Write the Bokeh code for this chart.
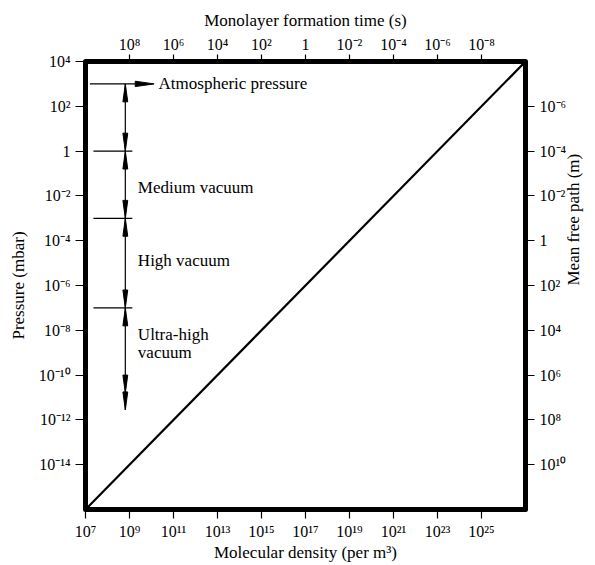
import math
from bokeh.plotting import figure
from bokeh.models import Range1d, LogAxis, LogScale, FixedTicker, Label, CustomJSTickFormatter
from bokeh.embed import file_html
from bokeh.resources import INLINE

# ---------------- data ----------------
density = [1e7, 1e27]            # molecular density (per m^3)
pressure = [1e-16, 1e4]          # pressure (mbar)

bottom_ticks = [1e7, 1e9, 1e11, 1e13, 1e15, 1e17, 1e19, 1e21, 1e23, 1e25]
bottom_labels = ["10⁷", "10⁹", "10¹¹", "10¹³", "10¹⁵", "10¹⁷", "10¹⁹", "10²¹", "10²³", "10²⁵"]

left_ticks = [1e4, 1e2, 1.0, 1e-2, 1e-4, 1e-6, 1e-8, 1e-10, 1e-12, 1e-14]
left_labels = ["10⁴", "10²", "1", "10⁻²", "10⁻⁴", "10⁻⁶", "10⁻⁸", "10⁻¹⁰", "10⁻¹²", "10⁻¹⁴"]

top_ticks = [1e8, 1e6, 1e4, 1e2, 1.0, 1e-2, 1e-4, 1e-6, 1e-8]
top_labels = ["10⁸", "10⁶", "10⁴", "10²", "1", "10⁻²", "10⁻⁴", "10⁻⁶", "10⁻⁸"]

right_ticks = [1e-6, 1e-4, 1e-2, 1.0, 1e2, 1e4, 1e6, 1e8, 1e10]
right_labels = ["10⁻⁶", "10⁻⁴", "10⁻²", "1", "10²", "10⁴", "10⁶", "10⁸", "10¹⁰"]

# monolayer time (s) = time_const / density ; mean free path (m) = mfp_const / pressure
time_const = 1e17
mfp_const = 1e-4

# vacuum regime boundaries (mbar)
atmospheric = 1e3
regime_bounds = [1e3, 1.0, 1e-3, 1e-7]
uhv_arrow_tips = [10 ** -10.8, 10 ** -11.55]

FONT = "Liberation Serif"

# ---------------- figure ----------------
p = figure(width=595, height=565, x_axis_type="log", y_axis_type="log",
           x_range=Range1d(density[0], density[1]),
           y_range=Range1d(pressure[0], pressure[1]),
           output_backend="svg", toolbar_location=None,
           min_border_left=85, min_border_right=70, min_border_top=61, min_border_bottom=56)
p.grid.visible = False
p.background_fill_color = "white"
p.border_fill_color = "white"
p.outline_line_color = "black"
p.outline_line_width = 5
p.outline_line_join = "round"

p.extra_x_ranges = {"t": Range1d(time_const / density[0], time_const / density[1])}
p.extra_x_scales = {"t": LogScale()}
p.extra_y_ranges = {"mfp": Range1d(mfp_const / pressure[0], mfp_const / pressure[1])}
p.extra_y_scales = {"mfp": LogScale()}

top_axis = LogAxis(x_range_name="t")
right_axis = LogAxis(y_range_name="mfp")
p.add_layout(top_axis, "above")
p.add_layout(right_axis, "right")

FMT_CODE = """
let best = 0, bd = Infinity;
for (let i = 0; i < tv.length; i++) {
  const d = Math.abs(Math.log10(tv[i]) - Math.log10(tick));
  if (d < bd) { bd = d; best = i; }
}
return lbls[best];
"""


def style(ax, ticks, labels, title, tick_len=10, label_standoff=4, title_standoff=6):
    ax.ticker = FixedTicker(ticks=ticks, minor_ticks=[])
    ax.formatter = CustomJSTickFormatter(args=dict(tv=ticks, lbls=labels), code=FMT_CODE)
    ax.axis_label = title
    ax.axis_label_text_font = FONT
    ax.axis_label_text_font_size = "17px"
    ax.axis_label_text_font_style = "normal"
    ax.axis_label_text_color = "black"
    ax.major_label_text_font = FONT
    ax.major_label_text_font_size = "16px"
    ax.major_label_text_color = "black"
    ax.axis_line_color = None
    ax.major_tick_out = tick_len
    ax.major_tick_in = 0
    ax.major_tick_line_color = "black"
    ax.major_tick_line_width = 1.2
    ax.minor_tick_line_color = None
    ax.major_label_standoff = label_standoff
    ax.axis_label_standoff = title_standoff


style(p.below[0], bottom_ticks, bottom_labels, "Molecular density (per m³)", 9, 4, 0)
style(p.left[0], left_ticks, left_labels, "Pressure (mbar)", 10, 5, 8)
style(top_axis, top_ticks, top_labels, "Monolayer formation time (s)", 7, 2, 3)
style(right_axis, right_ticks, right_labels, "Mean free path (m)", 9, 5, 4)
right_axis.axis_label_orientation = math.pi / 2

# diagonal relation line
p.line(density, pressure, line_color="black", line_width=2.2)

# ---------------- regime arrows ----------------
arrow_x = 10 ** 8.81
tick_x0, tick_x1 = 10 ** 7.36, 10 ** 9.13
head_len = 0.8      # decades (vertical)
head_hw = 0.11      # decades (horizontal half width)
lx = math.log10(arrow_x)

# main vertical shaft
p.segment(x0=[arrow_x], y0=[atmospheric], x1=[arrow_x], y1=[uhv_arrow_tips[-1]],
          line_color="black", line_width=1.2)

# horizontal boundary marks
p.segment(x0=[tick_x0] * 3, y0=regime_bounds[1:], x1=[tick_x1] * 3, y1=regime_bounds[1:],
          line_color="black", line_width=1.2)

# atmospheric pressure arrow
atm_x0, atm_shaft_end, atm_tip = 10 ** 7.2, 10 ** 9.26, 10 ** 10.12
p.segment(x0=[atm_x0], y0=[atmospheric], x1=[atm_shaft_end], y1=[atmospheric],
          line_color="black", line_width=1.2)
la = math.log10(atmospheric)
p.patch([atm_shaft_end, atm_tip, atm_shaft_end],
        [10 ** (la + 0.12), atmospheric, 10 ** (la - 0.12)], color="black")

xs, ys = [], []


def head(tip_p, direction):
    lt = math.log10(tip_p)
    base = lt - direction * head_len
    xs.append([10 ** (lx - head_hw), arrow_x, 10 ** (lx + head_hw)])
    ys.append([10 ** base, tip_p, 10 ** base])


for a, b in zip(regime_bounds[:-1], regime_bounds[1:]):
    head(a, +1)   # pointing up at upper bound
    head(b, -1)   # pointing down at lower bound
head(regime_bounds[-1], +1)
for t in uhv_arrow_tips:
    head(t, -1)

p.patches(xs, ys, color="black")

# ---------------- labels ----------------
lab_x = 10 ** 9.38
label_kw = dict(text_font=FONT, text_font_size="17px", text_color="black", text_baseline="middle")
p.add_layout(Label(x=10 ** 10.32, y=atmospheric, text="Atmospheric pressure", **label_kw))
p.add_layout(Label(x=lab_x, y=10 ** -1.62, text="Medium vacuum", **label_kw))
p.add_layout(Label(x=lab_x, y=10 ** -4.88, text="High vacuum", **label_kw))
p.add_layout(Label(x=lab_x, y=10 ** -8.2, text="Ultra-high", **label_kw))
p.add_layout(Label(x=lab_x, y=10 ** -8.97, text="vacuum", **label_kw))

open("out.html", "w").write(file_html(p, INLINE))
